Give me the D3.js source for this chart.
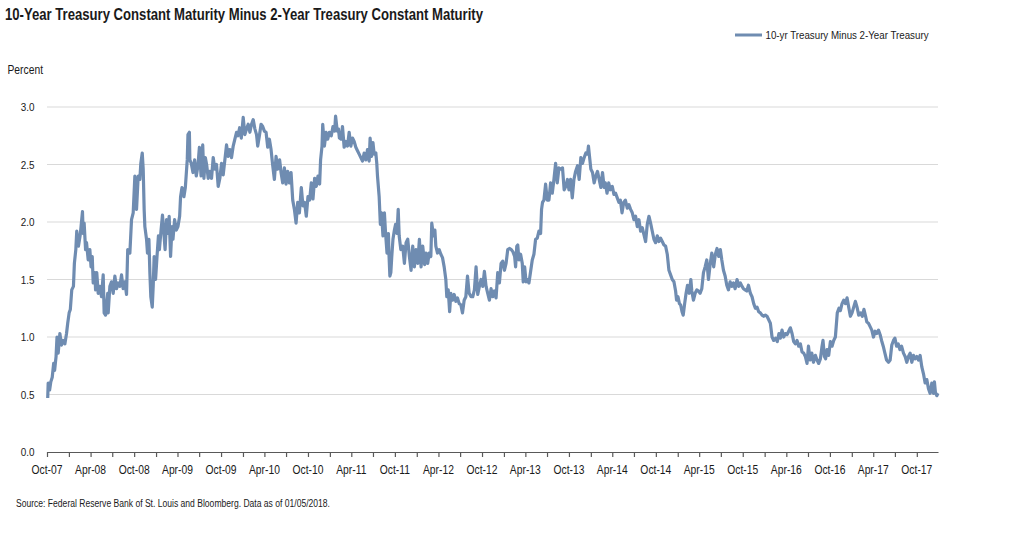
<!DOCTYPE html>
<html>
<head>
<meta charset="utf-8">
<script src="https://cdn.jsdelivr.net/npm/d3@7"></script>
<style>
  html, body { margin: 0; padding: 0; background: #fff; }
  svg { display: block; }
  text { font-family: "Liberation Sans", Arial, sans-serif; fill: #1a1a1a; }
</style>
</head>
<body>
<svg id="chart" width="1019" height="540"></svg>
<script>
const title = "10-Year Treasury Constant Maturity Minus 2-Year Treasury Constant Maturity";
const seriesName = "10-yr Treasury Minus 2-Year Treasury";
const yAxisTitle = "Percent";
const sourceNote = "Source: Federal Reserve Bank of St. Louis and Bloomberg. Data as of 01/05/2018.";
const yTicks = [0.0, 0.5, 1.0, 1.5, 2.0, 2.5, 3.0];
const xDomain = ["2007-10-01", "2017-12-29"];

const dates = [
"2007-10-04","2007-10-06","2007-10-12","2007-10-17","2007-10-23","2007-10-29","2007-11-02","2007-11-08","2007-11-12","2007-11-17",
"2007-11-24","2007-12-01","2007-12-08","2007-12-15","2007-12-22","2007-12-27","2008-01-02","2008-01-07","2008-01-13","2008-01-20",
"2008-01-24","2008-01-30","2008-02-03","2008-02-10","2008-02-17","2008-02-21","2008-02-27","2008-03-01","2008-03-05","2008-03-11",
"2008-03-15","2008-03-22","2008-03-29","2008-04-03","2008-04-08","2008-04-12","2008-04-19","2008-04-22","2008-04-27","2008-05-03",
"2008-05-10","2008-05-17","2008-05-24","2008-05-28","2008-06-03","2008-06-09","2008-06-12","2008-06-14","2008-06-21","2008-06-28",
"2008-07-05","2008-07-12","2008-07-19","2008-07-26","2008-08-02","2008-08-09","2008-08-16","2008-08-23","2008-08-30","2008-09-04",
"2008-09-13","2008-09-20","2008-09-27","2008-10-04","2008-10-11","2008-10-18","2008-10-25","2008-10-29","2008-11-04","2008-11-08",
"2008-11-12","2008-11-15","2008-11-22","2008-11-26","2008-12-02","2008-12-06","2008-12-10","2008-12-16","2008-12-20","2008-12-24",
"2008-12-30","2009-01-05","2009-01-11","2009-01-15","2009-01-22","2009-01-28","2009-02-03","2009-02-08","2009-02-14","2009-02-21",
"2009-02-25","2009-03-03","2009-03-09","2009-03-13","2009-03-20","2009-03-27","2009-04-03","2009-04-10","2009-04-14","2009-04-20",
"2009-04-28","2009-05-04","2009-05-12","2009-05-15","2009-05-21","2009-05-23","2009-05-29","2009-06-05","2009-06-12","2009-06-19",
"2009-06-26","2009-07-02","2009-07-09","2009-07-16","2009-07-21","2009-07-27","2009-08-02","2009-08-08","2009-08-15","2009-08-22",
"2009-08-29","2009-09-05","2009-09-12","2009-09-19","2009-09-26","2009-10-03","2009-10-10","2009-10-17","2009-10-24","2009-10-31",
"2009-11-07","2009-11-14","2009-11-21","2009-11-28","2009-12-05","2009-12-11","2009-12-18","2009-12-25","2010-01-02","2010-01-09",
"2010-01-16","2010-01-23","2010-01-30","2010-02-06","2010-02-13","2010-02-20","2010-02-27","2010-03-04","2010-03-11","2010-03-18",
"2010-03-25","2010-04-01","2010-04-08","2010-04-15","2010-04-22","2010-04-29","2010-05-06","2010-05-13","2010-05-20","2010-05-27",
"2010-06-04","2010-06-10","2010-06-17","2010-06-24","2010-07-01","2010-07-08","2010-07-15","2010-07-22","2010-07-29","2010-08-05",
"2010-08-12","2010-08-19","2010-08-26","2010-09-03","2010-09-10","2010-09-17","2010-09-24","2010-10-01","2010-10-08","2010-10-15",
"2010-10-22","2010-10-29","2010-11-05","2010-11-12","2010-11-19","2010-11-23","2010-11-29","2010-12-02","2010-12-09","2010-12-16",
"2010-12-23","2010-12-30","2011-01-07","2011-01-14","2011-01-21","2011-01-25","2011-02-01","2011-02-06","2011-02-10","2011-02-17",
"2011-02-23","2011-03-02","2011-03-09","2011-03-16","2011-03-23","2011-03-30","2011-04-06","2011-04-13","2011-04-20","2011-04-27",
"2011-05-04","2011-05-11","2011-05-18","2011-05-25","2011-06-01","2011-06-08","2011-06-15","2011-06-19","2011-06-25","2011-07-01",
"2011-07-06","2011-07-13","2011-07-17","2011-07-20","2011-07-27","2011-08-01","2011-08-06","2011-08-12","2011-08-18","2011-08-23",
"2011-08-29","2011-09-04","2011-09-06","2011-09-10","2011-09-14","2011-09-18","2011-09-23","2011-09-29","2011-10-04","2011-10-10",
"2011-10-15","2011-10-19","2011-10-26","2011-11-03","2011-11-10","2011-11-17","2011-11-24","2011-12-01","2011-12-08","2011-12-15",
"2011-12-22","2011-12-29","2012-01-05","2012-01-12","2012-01-19","2012-01-26","2012-02-03","2012-02-09","2012-02-16","2012-02-22",
"2012-02-29","2012-03-04","2012-03-11","2012-03-17","2012-03-21","2012-03-28","2012-04-04","2012-04-11","2012-04-18","2012-04-25",
"2012-05-02","2012-05-06","2012-05-12","2012-05-18","2012-05-23","2012-05-30","2012-06-06","2012-06-13","2012-06-20","2012-06-27",
"2012-07-04","2012-07-11","2012-07-18","2012-07-25","2012-08-01","2012-08-08","2012-08-16","2012-08-23","2012-08-30","2012-09-06",
"2012-09-13","2012-09-20","2012-09-27","2012-10-04","2012-10-11","2012-10-18","2012-10-25","2012-11-01","2012-11-08","2012-11-15",
"2012-11-22","2012-11-29","2012-12-06","2012-12-13","2012-12-20","2012-12-27","2013-01-03","2013-01-10","2013-01-17","2013-01-24",
"2013-02-01","2013-02-08","2013-02-15","2013-02-19","2013-02-24","2013-02-28","2013-03-05","2013-03-12","2013-03-19","2013-03-23",
"2013-03-29","2013-04-04","2013-04-09","2013-04-16","2013-04-23","2013-04-30","2013-05-07","2013-05-14","2013-05-21","2013-05-28",
"2013-06-04","2013-06-08","2013-06-12","2013-06-18","2013-06-25","2013-07-02","2013-07-09","2013-07-16","2013-07-23","2013-07-30",
"2013-08-06","2013-08-13","2013-08-20","2013-08-27","2013-09-04","2013-09-11","2013-09-18","2013-09-25","2013-10-01","2013-10-08",
"2013-10-15","2013-10-22","2013-10-29","2013-11-06","2013-11-13","2013-11-20","2013-11-27","2013-12-04","2013-12-11","2013-12-18",
"2013-12-22","2013-12-28","2014-01-01","2014-01-08","2014-01-15","2014-01-22","2014-01-29","2014-02-05","2014-02-12","2014-02-19",
"2014-02-26","2014-03-03","2014-03-10","2014-03-17","2014-03-24","2014-04-01","2014-04-08","2014-04-15","2014-04-22","2014-04-29",
"2014-05-05","2014-05-12","2014-05-19","2014-05-26","2014-06-03","2014-06-10","2014-06-17","2014-06-24","2014-07-01","2014-07-08",
"2014-07-15","2014-07-22","2014-07-29","2014-08-05","2014-08-12","2014-08-19","2014-08-26","2014-09-02","2014-09-09","2014-09-16",
"2014-09-23","2014-09-30","2014-10-07","2014-10-14","2014-10-21","2014-10-28","2014-11-04","2014-11-11","2014-11-18","2014-11-25",
"2014-12-02","2014-12-09","2014-12-16","2014-12-23","2014-12-27","2015-01-02","2015-01-08","2015-01-13","2015-01-19","2015-01-24",
"2015-01-30","2015-02-05","2015-02-11","2015-02-18","2015-02-25","2015-03-01","2015-03-08","2015-03-15","2015-03-22","2015-03-29",
"2015-04-05","2015-04-12","2015-04-19","2015-04-26","2015-05-03","2015-05-10","2015-05-17","2015-05-24","2015-06-01","2015-06-08",
"2015-06-15","2015-06-22","2015-06-29","2015-07-05","2015-07-12","2015-07-19","2015-07-26","2015-08-02","2015-08-09","2015-08-16",
"2015-08-23","2015-08-30","2015-09-07","2015-09-14","2015-09-21","2015-09-28","2015-10-04","2015-10-11","2015-10-18","2015-10-25",
"2015-11-02","2015-11-09","2015-11-16","2015-11-23","2015-11-30","2015-12-07","2015-12-14","2015-12-21","2015-12-28","2016-01-04",
"2016-01-11","2016-01-18","2016-01-25","2016-02-01","2016-02-08","2016-02-16","2016-02-23","2016-03-01","2016-03-07","2016-03-14",
"2016-03-21","2016-03-28","2016-04-04","2016-04-11","2016-04-18","2016-04-25","2016-05-02","2016-05-09","2016-05-16","2016-05-23",
"2016-05-30","2016-06-06","2016-06-13","2016-06-20","2016-06-27","2016-07-03","2016-07-10","2016-07-17","2016-07-24","2016-08-01",
"2016-08-08","2016-08-15","2016-08-22","2016-08-29","2016-09-02","2016-09-08","2016-09-13","2016-09-19","2016-09-26","2016-10-03",
"2016-10-10","2016-10-17","2016-10-24","2016-11-01","2016-11-08","2016-11-14","2016-11-21","2016-11-28","2016-12-05","2016-12-12",
"2016-12-19","2016-12-26","2017-01-02","2017-01-09","2017-01-16","2017-01-23","2017-01-30","2017-02-07","2017-02-14","2017-02-21",
"2017-02-28","2017-03-05","2017-03-12","2017-03-19","2017-03-26","2017-04-02","2017-04-09","2017-04-16","2017-04-23","2017-04-30",
"2017-05-06","2017-05-13","2017-05-20","2017-05-27","2017-06-04","2017-06-11","2017-06-18","2017-06-25","2017-07-01","2017-07-08",
"2017-07-15","2017-07-22","2017-07-29","2017-08-06","2017-08-13","2017-08-20","2017-08-27","2017-09-03","2017-09-10","2017-09-17",
"2017-09-24","2017-10-01","2017-10-08","2017-10-15","2017-10-22","2017-10-29","2017-11-05","2017-11-12","2017-11-19","2017-11-26",
"2017-12-03","2017-12-10","2017-12-14","2017-12-18","2017-12-24","2017-12-29"
];

const spread = [
0.47,0.60,0.54,0.61,0.65,0.77,0.71,0.83,1.00,0.86,
1.03,0.93,0.97,0.94,1.03,1.12,1.21,1.24,1.41,1.44,
1.64,1.76,1.92,1.79,1.88,1.96,2.09,1.90,1.99,1.76,
1.82,1.67,1.76,1.61,1.70,1.47,1.56,1.41,1.56,1.38,
1.44,1.35,1.54,1.21,1.19,1.32,1.38,1.21,1.44,1.48,
1.38,1.53,1.42,1.47,1.44,1.54,1.42,1.48,1.37,1.76,
1.73,2.02,2.08,2.40,2.11,2.40,2.37,2.51,2.60,2.46,
2.11,1.96,1.85,1.73,1.85,1.56,1.35,1.26,1.44,1.70,
1.50,1.70,1.88,1.76,1.93,2.06,1.90,1.76,2.02,1.90,
2.05,1.70,1.96,1.85,2.02,1.93,1.96,2.05,2.22,2.30,
2.22,2.30,2.54,2.76,2.78,2.54,2.51,2.43,2.54,2.40,
2.49,2.65,2.40,2.67,2.38,2.56,2.49,2.38,2.44,2.38,
2.56,2.46,2.50,2.31,2.38,2.51,2.41,2.54,2.67,2.57,
2.63,2.56,2.66,2.72,2.78,2.75,2.82,2.73,2.91,2.76,
2.81,2.85,2.78,2.85,2.89,2.81,2.76,2.66,2.75,2.85,
2.83,2.79,2.78,2.65,2.72,2.63,2.49,2.37,2.57,2.46,
2.54,2.43,2.34,2.47,2.33,2.44,2.34,2.43,2.19,2.11,
1.99,2.17,2.08,2.30,2.14,2.17,2.05,2.22,2.19,2.34,
2.20,2.38,2.31,2.40,2.33,2.54,2.66,2.85,2.66,2.78,
2.72,2.78,2.75,2.83,2.79,2.92,2.79,2.81,2.73,2.72,
2.83,2.65,2.70,2.66,2.78,2.66,2.73,2.70,2.65,2.62,
2.59,2.56,2.53,2.60,2.54,2.63,2.53,2.73,2.57,2.69,
2.59,2.60,2.51,2.40,2.22,1.98,2.08,1.88,2.08,1.90,
1.73,1.90,1.73,1.53,1.56,1.70,1.85,1.93,1.98,1.90,
2.11,1.88,1.76,1.79,1.64,1.82,1.85,1.70,1.58,1.79,
1.61,1.76,1.64,1.85,1.61,1.79,1.63,1.73,1.64,1.73,
1.70,1.99,1.88,1.93,1.79,1.73,1.76,1.72,1.69,1.61,
1.50,1.35,1.41,1.22,1.38,1.32,1.37,1.31,1.34,1.29,
1.28,1.21,1.32,1.35,1.53,1.38,1.35,1.35,1.41,1.61,
1.37,1.44,1.50,1.44,1.57,1.44,1.38,1.32,1.42,1.35,
1.40,1.34,1.56,1.47,1.64,1.66,1.58,1.64,1.76,1.77,
1.76,1.74,1.70,1.61,1.79,1.80,1.67,1.72,1.64,1.48,
1.61,1.48,1.50,1.47,1.57,1.67,1.72,1.85,1.86,1.92,
1.90,2.11,2.17,2.19,2.33,2.19,2.19,2.34,2.25,2.37,
2.51,2.34,2.47,2.46,2.47,2.28,2.31,2.37,2.28,2.37,
2.21,2.37,2.44,2.49,2.37,2.56,2.51,2.56,2.60,2.59,
2.66,2.54,2.46,2.43,2.34,2.40,2.44,2.37,2.30,2.43,
2.30,2.34,2.25,2.34,2.28,2.31,2.24,2.25,2.21,2.17,
2.19,2.08,2.17,2.19,2.12,2.15,2.11,2.08,2.02,2.05,
1.96,2.02,1.92,1.95,1.89,1.83,1.98,2.05,1.99,1.92,
1.85,1.82,1.88,1.83,1.86,1.83,1.80,1.79,1.72,1.58,
1.54,1.50,1.48,1.40,1.32,1.35,1.29,1.28,1.22,1.19,
1.29,1.38,1.45,1.38,1.50,1.40,1.32,1.38,1.41,1.40,
1.38,1.42,1.56,1.61,1.67,1.50,1.63,1.73,1.61,1.72,
1.77,1.70,1.76,1.67,1.58,1.53,1.45,1.41,1.48,1.44,
1.47,1.42,1.50,1.44,1.47,1.44,1.42,1.41,1.40,1.45,
1.38,1.35,1.29,1.25,1.26,1.22,1.21,1.19,1.18,1.19,
1.18,1.15,1.12,1.00,0.97,0.99,0.96,1.03,0.99,1.06,
1.00,1.03,1.02,1.05,1.08,1.03,0.96,0.94,0.97,0.92,
0.94,0.87,0.86,0.83,0.77,0.92,0.80,0.86,0.78,0.84,
0.80,0.77,0.81,0.92,0.97,0.83,0.81,0.89,0.84,0.96,
0.92,0.97,1.00,1.21,1.25,1.23,1.29,1.32,1.29,1.34,
1.26,1.18,1.21,1.26,1.31,1.26,1.19,1.21,1.18,1.24,
1.18,1.13,1.12,1.09,1.06,1.00,1.05,1.03,1.06,1.02,
0.97,0.92,0.86,0.80,0.78,0.80,0.93,0.97,0.99,0.92,
0.94,0.89,0.92,0.86,0.83,0.78,0.83,0.86,0.78,0.84,
0.81,0.83,0.80,0.84,0.74,0.68,0.60,0.63,0.55,0.51,
0.60,0.51,0.61,0.52,0.49,0.51
];

const parse = d3.timeParse("%Y-%m-%d");
const data = dates.map((d, i) => ({ date: parse(d), value: spread[i] }));

const svg = d3.select("#chart");
const W = 1019, H = 540;
const margin = { left: 47, right: W - 938, top: 107, bottom: H - 452 };

const x = d3.scaleTime()
  .domain(xDomain.map(parse))
  .range([margin.left, W - margin.right]);
const y = d3.scaleLinear().domain([0, 3]).range([H - margin.bottom, margin.top]);

// condensed-looking text helper (horizontal squeeze)
function label(g, px, py, str, size, sx, anchor) {
  return g.append("text")
    .attr("transform", `translate(${px},${py}) scale(${sx},1)`)
    .attr("text-anchor", anchor || "start")
    .attr("font-size", size)
    .text(str);
}

// gridlines
svg.append("g")
  .selectAll("line")
  .data(yTicks.filter(t => t > 0))
  .join("line")
  .attr("x1", x.range()[0]).attr("x2", x.range()[1])
  .attr("y1", d => y(d)).attr("y2", d => y(d))
  .attr("stroke", "#d9d9d9").attr("stroke-width", 1);

// y labels
const gy = svg.append("g");
yTicks.forEach(t => label(gy, 34.5, y(t) + 4, d3.format(".1f")(t), 11, 0.9, "end"));

// x axis
const quarterTicks = d3.timeMonth.every(3).range(x.domain()[0], d3.timeDay.offset(x.domain()[1], 1));
const labelTicks = quarterTicks.filter(d => d.getMonth() === 3 || d.getMonth() === 9);
const xAxis = d3.axisBottom(x)
  .tickValues(quarterTicks)
  .tickSize(5)
  .tickSizeOuter(0)
  .tickFormat("");
const gx = svg.append("g").attr("transform", `translate(0,${y(0)})`).call(xAxis);
gx.select(".domain").attr("stroke", "#595959").attr("stroke-width", 1.2);
gx.selectAll(".tick line").attr("stroke", "#595959").attr("stroke-width", 1.2);

const gxl = svg.append("g");
labelTicks.forEach(d => label(gxl, x(d), 474, d3.timeFormat("%b-%y")(d), 12, 0.86, "middle"));

// line
svg.append("path")
  .datum(data)
  .attr("fill", "none")
  .attr("stroke", "#6f8cb1")
  .attr("stroke-width", 3.2)
  .attr("stroke-linejoin", "round")
  .attr("d", d3.line().x(d => x(d.date)).y(d => y(d.value)));

// title
svg.append("text").attr("x", 5).attr("y", 19.5)
  .attr("font-size", 17).attr("font-weight", "bold").attr("fill", "#111")
  .attr("textLength", 478).attr("lengthAdjust", "spacingAndGlyphs")
  .text(title);

svg.append("text").attr("x", 7.5).attr("y", 73.5).attr("font-size", 12)
  .attr("textLength", 35.5).attr("lengthAdjust", "spacingAndGlyphs")
  .text(yAxisTitle);

// legend
svg.append("line").attr("x1", 735).attr("x2", 762).attr("y1", 35).attr("y2", 35)
  .attr("stroke", "#6f8cb1").attr("stroke-width", 3);
svg.append("text").attr("x", 765.5).attr("y", 39).attr("font-size", 11.5)
  .attr("textLength", 163).attr("lengthAdjust", "spacingAndGlyphs")
  .text(seriesName);

svg.append("text").attr("x", 16).attr("y", 507).attr("font-size", 10)
  .attr("textLength", 314).attr("lengthAdjust", "spacingAndGlyphs")
  .text(sourceNote);
</script>
</body>
</html>
